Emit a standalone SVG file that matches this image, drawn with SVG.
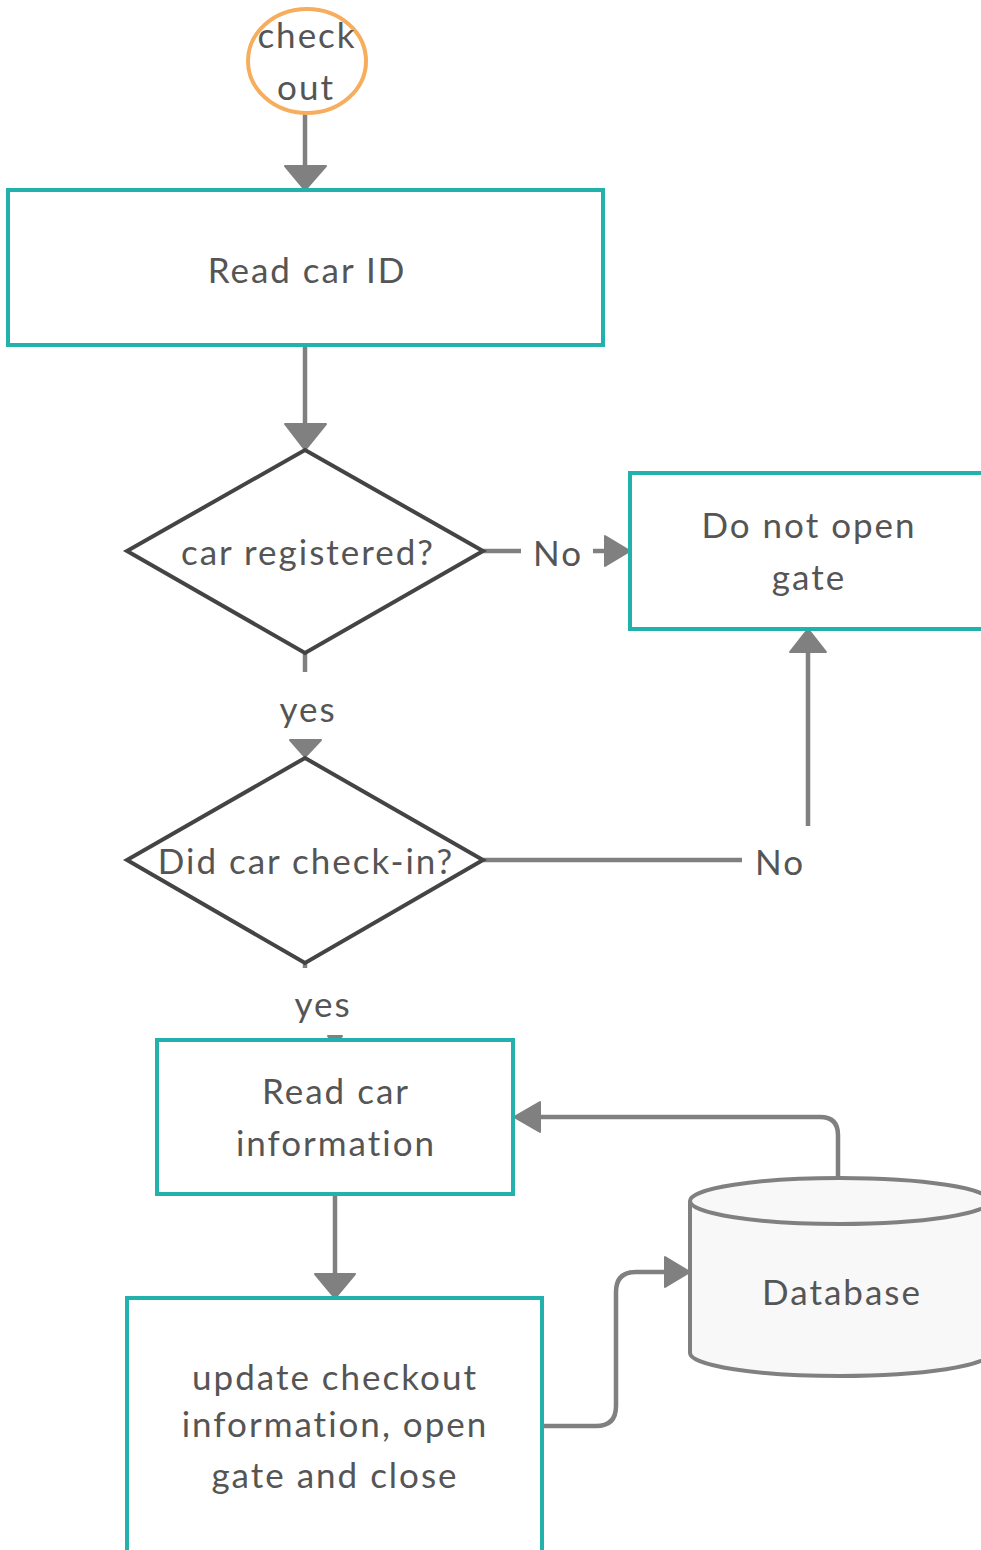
<svg xmlns="http://www.w3.org/2000/svg" width="981" height="1550" viewBox="0 0 981 1550">
<style>
.t{font-family:Lato,"Open Sans",sans-serif;font-size:35px;letter-spacing:2px;fill:#555;text-anchor:middle}
.box{fill:#fff;stroke:#22b1ad;stroke-width:4}
.dia{fill:#fff;stroke:#444;stroke-width:4;stroke-linejoin:miter}
.c{fill:none;stroke:#808080;stroke-width:4.5}
.h{fill:#808080;stroke:#808080;stroke-width:2;stroke-linejoin:round}
</style>
<rect width="981" height="1550" fill="#fff"/>
<g id="connectors">
<line class="c" x1="305" y1="113" x2="305" y2="168"/>
<polygon class="h" points="285,166 326,166 305,190"/>
<line class="c" x1="305" y1="345" x2="305" y2="425"/>
<polygon class="h" points="285,424 326,424 305,450"/>
<line class="c" x1="483" y1="551" x2="521" y2="551"/>
<line class="c" x1="593" y1="551" x2="608" y2="551"/>
<polygon class="h" points="605,536 605,566 630,551"/>
<line class="c" x1="305" y1="653" x2="305" y2="672"/>
<polygon class="h" points="290,740 321,740 305,757"/>
<line class="c" x1="483" y1="860" x2="742" y2="860"/>
<line class="c" x1="808" y1="826" x2="808" y2="652"/>
<polygon class="h" points="790,652 826,652 808,629"/>
<line class="c" x1="305" y1="963" x2="305" y2="968"/>
<polygon class="h" points="328,1036 342,1036 335,1044"/>
<path class="c" d="M838,1178 V1135 Q838,1117 820,1117 H538"/>
<polygon class="h" points="540,1102 540,1132 514,1117"/>
<line class="c" x1="335" y1="1194" x2="335" y2="1276"/>
<polygon class="h" points="315,1274 355,1274 335,1298"/>
<path class="c" d="M542,1426 H596 Q616,1426 616,1406 V1292 Q616,1272 636,1272 H668"/>
<polygon class="h" points="665,1257 665,1287 690,1272"/>
</g>
<g id="start">
<ellipse cx="307" cy="61" rx="59" ry="52" fill="#fff" stroke="#f6ad5c" stroke-width="4"/>
<text class="t" x="307" y="48">check</text>
<text class="t" x="306" y="100">out</text>
</g>
<g id="readId">
<rect class="box" x="8" y="190" width="595" height="155"/>
<text class="t" x="307" y="283">Read car ID</text>
</g>
<g id="registered">
<polygon class="dia" points="305,450 483,551 305,653 127,551"/>
<text class="t" x="308" y="565">car registered?</text>
</g>
<g id="noLabel1"><text class="t" x="558" y="566">No</text></g>
<g id="notOpen">
<rect class="box" x="630" y="473" width="360" height="156"/>
<text class="t" x="809" y="538">Do not open</text>
<text class="t" x="809" y="590">gate</text>
</g>
<g id="yesLabel1"><text class="t" x="308" y="722">yes</text></g>
<g id="checkin">
<polygon class="dia" points="305,758 483,860 305,963 127,860"/>
<text class="t" x="306" y="874">Did car check-in?</text>
</g>
<g id="noLabel2"><text class="t" x="780" y="875">No</text></g>
<g id="yesLabel2"><text class="t" x="323" y="1017">yes</text></g>
<g id="readInfo">
<rect class="box" x="157" y="1040" width="356" height="154"/>
<text class="t" x="336" y="1104">Read car</text>
<text class="t" x="336" y="1156">information</text>
</g>
<g id="update">
<rect class="box" x="127" y="1298" width="415" height="280"/>
<text class="t" x="335" y="1390">update checkout</text>
<text class="t" x="335" y="1437">information, open</text>
<text class="t" x="335" y="1488">gate and close</text>
</g>
<g id="database">
<path d="M690,1201 V1353 A150,23 0 0 0 990,1353 V1201" fill="#f8f8f8" stroke="#808080" stroke-width="4"/>
<ellipse cx="840" cy="1201" rx="150" ry="23" fill="#f8f8f8" stroke="#808080" stroke-width="4"/>
<text class="t" x="842" y="1305">Database</text>
</g>
</svg>
